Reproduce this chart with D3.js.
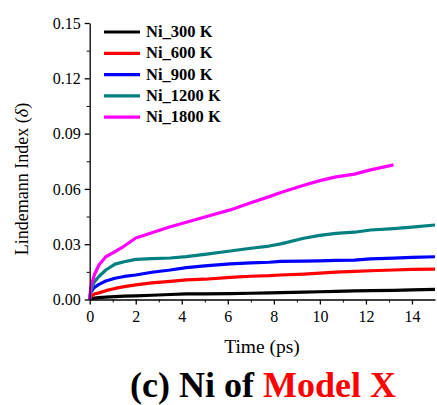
<!DOCTYPE html>
<html>
<head>
<meta charset="utf-8">
<script src="https://cdn.jsdelivr.net/npm/d3@7"></script>
<style>
    body { margin: 0; background: #fff; }
    svg { display: block; font-family: "Liberation Serif", "Times New Roman", serif; }
</style>
</head>
<body>
<div id="chart"></div>
<script>
// time axis (ps) shared by every curve
const timePs = [0, 0.05, 0.2, 0.4, 0.7, 1.1, 1.5, 2, 2.7, 3.5, 4.2, 5, 6.1, 7, 7.8, 8.3, 9.3, 10, 10.7, 11.5, 12.2, 13.2, 14, 15];

const ni300 = [0, 0.0003, 0.0007, 0.001, 0.0013, 0.0016, 0.0018, 0.002, 0.0023, 0.0027, 0.003, 0.0031, 0.0032, 0.0034, 0.0036, 0.0037, 0.004, 0.0042, 0.0044, 0.0047, 0.0048, 0.005, 0.0052, 0.0055];
const ni600 = [0, 0.0015, 0.003, 0.0036, 0.0048, 0.006, 0.007, 0.0079, 0.009, 0.0098, 0.0106, 0.011, 0.012, 0.0126, 0.0129, 0.0133, 0.0138, 0.0143, 0.0148, 0.0153, 0.0156, 0.016, 0.0163, 0.0165];
const ni900 = [0, 0.004, 0.0065, 0.0082, 0.01, 0.0115, 0.0125, 0.0133, 0.0148, 0.016, 0.0173, 0.0182, 0.0193, 0.0199, 0.0202, 0.0207, 0.0208, 0.021, 0.0212, 0.0214, 0.022, 0.0224, 0.0228, 0.0232];
const ni1200 = [0, 0.005, 0.0095, 0.0125, 0.016, 0.0192, 0.0205, 0.0218, 0.0222, 0.0225, 0.0233, 0.0245, 0.0263, 0.0278, 0.029, 0.0302, 0.0332, 0.0348, 0.0359, 0.0365, 0.0377, 0.0385, 0.0393, 0.0404];
const ni1800 = [0, 0.007, 0.0133, 0.0187, 0.0232, 0.026, 0.029, 0.0334, 0.0362, 0.0395, 0.0419, 0.0448, 0.0486, 0.0525, 0.0558, 0.058, 0.062, 0.0645, 0.0665, 0.068, 0.0703, 0.073, null, null];

const seriesNames = ["Ni_300 K", "Ni_600 K", "Ni_900 K", "Ni_1200 K", "Ni_1800 K"];
const seriesColors = ["#000000", "#ff0000", "#0000ff", "#008080", "#ff00ff"];
const seriesValues = [ni300, ni600, ni900, ni1200, ni1800];

const yTicks = [0, 0.03, 0.06, 0.09, 0.12, 0.15];
const xTicks = [0, 2, 4, 6, 8, 10, 12, 14];

const W = 437, H = 405;
const margin = { top: 23, right: 2, bottom: 105.5, left: 89.7 },
    width = W - margin.left - margin.right,
    height = H - margin.top - margin.bottom;

const svg = d3.select("#chart")
    .append("svg")
    .attr("width", W)
    .attr("height", H);

const g = svg.append("g")
    .attr("transform", `translate(${margin.left},${margin.top})`);

const x = d3.scaleLinear().domain([0, 15]).range([0, width]);
const y = d3.scaleLinear().domain([0, 0.15]).range([height, 0]);

// curves
const line = d3.line()
    .defined(d => d.v !== null)
    .x(d => x(d.t))
    .y(d => y(d.v));

seriesValues.forEach((vals, i) => {
    const pts = timePs.map((t, k) => ({ t: t, v: vals[k] }));
    g.append("path")
        .datum(pts)
        .attr("fill", "none")
        .attr("stroke", seriesColors[i])
        .attr("stroke-width", 3.2)
        .attr("stroke-linejoin", "round")
        .attr("d", line);
});

// minor ticks
const xMinor = d3.range(1, 15, 2);
const yMinor = yTicks.slice(1).map(v => v - 0.015);

g.append("g")
    .attr("transform", `translate(0,${height})`)
    .call(d3.axisBottom(x).tickValues(xMinor).tickSize(3).tickFormat(""))
    .call(a => a.select(".domain").remove());

g.append("g")
    .call(d3.axisLeft(y).tickValues(yMinor).tickSize(3).tickFormat(""))
    .call(a => a.select(".domain").remove());

// main axes
const xAxis = g.append("g")
    .attr("transform", `translate(0,${height})`)
    .call(d3.axisBottom(x).tickValues(xTicks).tickSize(5).tickSizeOuter(0).tickPadding(6));

const yAxis = g.append("g")
    .call(d3.axisLeft(y).tickValues(yTicks).tickSize(5).tickSizeOuter(0).tickPadding(4)
        .tickFormat(d3.format(".2f")));

[xAxis, yAxis].forEach(a => {
    a.attr("font-family", null);
    a.selectAll("path, line").attr("stroke", "#000").attr("stroke-width", 1.3);
    a.selectAll("text")
        .attr("fill", "#000")
        .style("font-family", "'Liberation Serif', serif")
        .style("font-size", "16px");
});

// axis titles
svg.append("text")
    .attr("x", 262)
    .attr("y", 353)
    .attr("text-anchor", "middle")
    .style("font-size", "19.5px")
    .text("Time (ps)");

const yTitle = svg.append("text")
    .attr("transform", "translate(28,179) rotate(-90)")
    .attr("text-anchor", "middle")
    .style("font-size", "18px");
yTitle.append("tspan").text("Lindemann Index (");
yTitle.append("tspan").style("font-style", "italic").text("δ");
yTitle.append("tspan").text(")");

// legend
const legend = svg.append("g");
seriesNames.forEach((name, i) => {
    const yy = 32 + i * 21.3;
    legend.append("line")
        .attr("x1", 104).attr("x2", 140)
        .attr("y1", yy).attr("y2", yy)
        .attr("stroke", seriesColors[i])
        .attr("stroke-width", 3.2);
    legend.append("text")
        .attr("x", 146)
        .attr("y", yy + 5)
        .style("font-size", "16.5px")
        .style("font-weight", "bold")
        .text(name);
});

// caption
const caption = svg.append("text")
    .attr("x", 263)
    .attr("y", 397)
    .attr("text-anchor", "middle")
    .style("font-size", "36px")
    .style("font-weight", "bold");
caption.append("tspan").text("(c) Ni of ");
caption.append("tspan").attr("fill", "#ff0000").text("Model X");
</script>
</body>
</html>
